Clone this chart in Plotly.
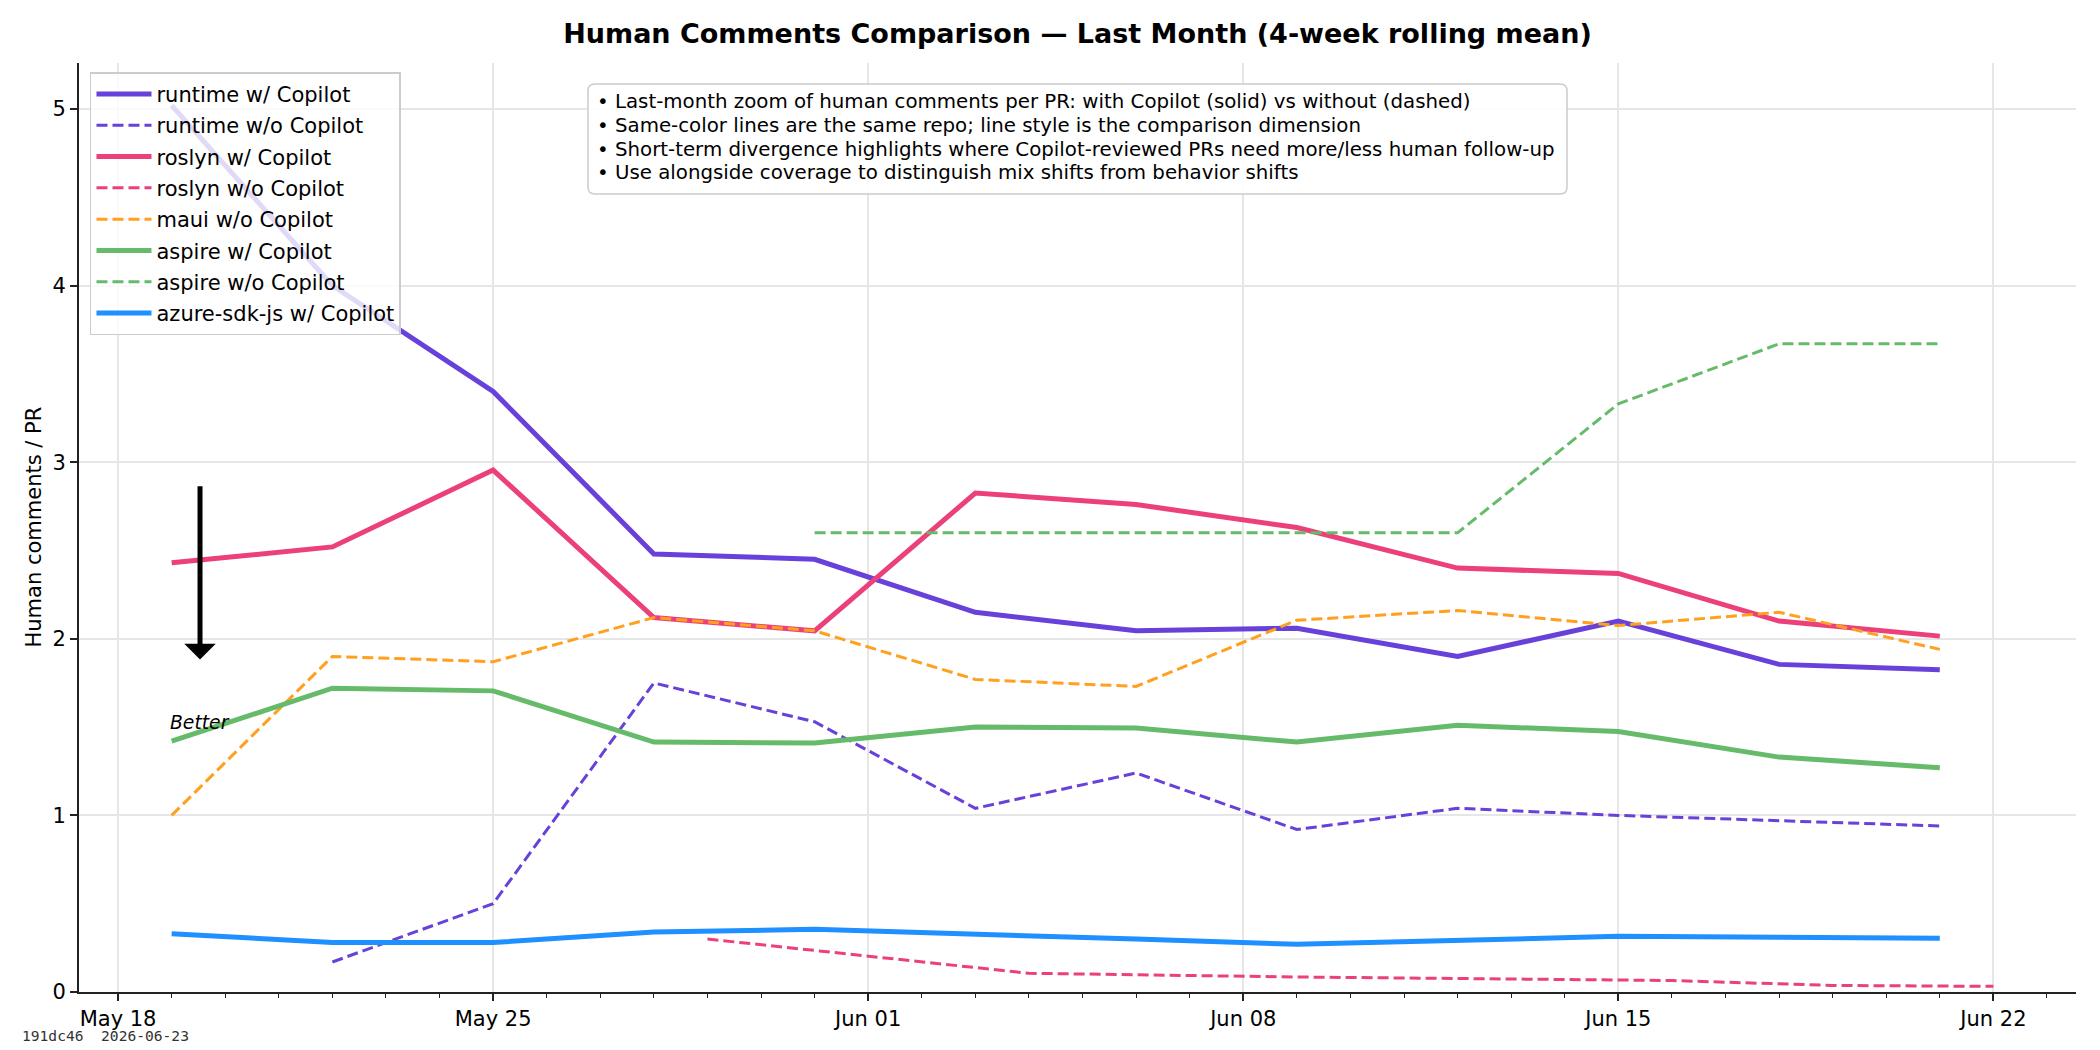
import plotly.graph_objects as go

# ---------------- data ----------------
dates_main = ["2026-05-19", "2026-05-22", "2026-05-25", "2026-05-28", "2026-05-31", "2026-06-03",
              "2026-06-06", "2026-06-09", "2026-06-12", "2026-06-15", "2026-06-18", "2026-06-21"]

runtime_w = [5.02, 4.00, 3.40, 2.48, 2.45, 2.15, 2.045, 2.06, 1.90, 2.10, 1.855, 1.825]

dates_runtime_wo = dates_main[1:]
runtime_wo = [0.17, 0.50, 1.75, 1.53, 1.04, 1.24, 0.92, 1.04, 1.00, 0.97, 0.94]

roslyn_w = [2.43, 2.52, 2.955, 2.12, 2.045, 2.825, 2.76, 2.63, 2.40, 2.37, 2.10, 2.015]

dates_roslyn_wo = ["2026-05-29", "2026-06-04", "2026-06-09", "2026-06-16", "2026-06-19", "2026-06-22"]
roslyn_wo = [0.30, 0.106, 0.085, 0.065, 0.037, 0.032]

maui_wo = [1.00, 1.90, 1.87, 2.12, 2.045, 1.77, 1.73, 2.105, 2.16, 2.075, 2.15, 1.94]

aspire_w = [1.42, 1.72, 1.705, 1.415, 1.41, 1.50, 1.495, 1.415, 1.51, 1.475, 1.33, 1.27]

dates_aspire_wo = dates_main[4:]
aspire_wo = [2.60, 2.60, 2.60, 2.60, 2.60, 3.33, 3.67, 3.67]

azure_w = [0.33, 0.28, 0.28, 0.34, 0.355, 0.33, 0.30, 0.27, 0.29, 0.315, 0.31, 0.305]

notes = [
    "Last-month zoom of human comments per PR: with Copilot (solid) vs without (dashed)",
    "Same-color lines are the same repo; line style is the comparison dimension",
    "Short-term divergence highlights where Copilot-reviewed PRs need more/less human follow-up",
    "Use alongside coverage to distinguish mix shifts from behavior shifts",
]

C_RUNTIME = "#6741d9"
C_ROSLYN = "#ec407a"
C_MAUI = "#ffa01e"
C_ASPIRE = "#66bb6a"
C_AZURE = "#1e90ff"

SOLID_W = 5.0
DASH_W = 3.0
DASH = "11px,5px"

series = [
    ("runtime w/ Copilot", dates_main, runtime_w, C_RUNTIME, "solid"),
    ("runtime w/o Copilot", dates_runtime_wo, runtime_wo, C_RUNTIME, "dash"),
    ("roslyn w/ Copilot", dates_main, roslyn_w, C_ROSLYN, "solid"),
    ("roslyn w/o Copilot", dates_roslyn_wo, roslyn_wo, C_ROSLYN, "dash"),
    ("maui w/o Copilot", dates_main, maui_wo, C_MAUI, "dash"),
    ("aspire w/ Copilot", dates_main, aspire_w, C_ASPIRE, "solid"),
    ("aspire w/o Copilot", dates_aspire_wo, aspire_wo, C_ASPIRE, "dash"),
    ("azure-sdk-js w/ Copilot", dates_main, azure_w, C_AZURE, "solid"),
]

FONT = "DejaVu Sans"

# plot area in pixels (used to place overlay text)
PL, PR_, PT, PB = 79, 2076, 63, 992.4
PW, PH = PR_ - PL, PB - PT


def fx(px):
    return (px - PL) / PW


def fy(py):
    return (PB - py) / PH


fig = go.Figure()
for i, (name, xs, ys, col, style) in enumerate(series):
    fig.add_trace(go.Scatter(
        x=xs, y=ys, mode="lines", name=name,
        legendgroup=f"g{i}",
        line=dict(color=col, width=SOLID_W if style == "solid" else DASH_W,
                  dash="solid" if style == "solid" else DASH),
        hoverinfo="skip",
    ))

fig.update_layout(
    width=2100, height=1050,
    margin=dict(l=79, r=24, t=63, b=58),
    paper_bgcolor="white", plot_bgcolor="white",
    font=dict(family=FONT, size=21, color="black"),
    title=dict(
        text="<b>Human Comments Comparison — Last Month (4-week rolling mean)</b>",
        x=0.5, xref="paper", xanchor="center",
        y=1 - 34 / 1050, yref="container", yanchor="middle",
        font=dict(family=FONT, size=27, color="black"),
    ),
    showlegend=True,
    legend=dict(
        x=0.0055, y=0.99, xanchor="left", yanchor="top",
        bgcolor="rgba(255,255,255,0.8)", bordercolor="#cccccc", borderwidth=1.5,
        font=dict(family=FONT, size=21, color="black"),
        traceorder="grouped", tracegroupgap=1.0, itemwidth=55,
    ),
    xaxis=dict(
        type="date",
        range=["2026-05-17 06:30", "2026-06-23 13:00"],
        tick0="2026-05-18", dtick=7 * 86400000,
        tickformat="%b %d",
        ticks="outside", ticklen=7, tickwidth=1.7, tickcolor="#222",
        showline=True, linecolor="#222", linewidth=1.8,
        showgrid=True, gridcolor="#e6e6e6", gridwidth=1.5,
        zeroline=False,
        tickfont=dict(family=FONT, size=21, color="black"),
        minor=dict(dtick=86400000, tick0="2026-05-18", ticks="outside", ticklen=4,
                   tickwidth=1.2, tickcolor="#222", showgrid=False),
    ),
    yaxis=dict(
        range=[0, 5.26],
        tick0=0, dtick=1,
        ticks="outside", ticklen=7, tickwidth=1.7, tickcolor="#222",
        showline=True, linecolor="#222", linewidth=1.8,
        showgrid=True, gridcolor="#e6e6e6", gridwidth=1.5,
        zeroline=False,
        tickfont=dict(family=FONT, size=21, color="black"),
    ),
)

# y-axis label
fig.add_annotation(
    text="Human comments / PR", textangle=-90,
    xref="paper", yref="paper", x=fx(33), y=0.5,
    xanchor="center", yanchor="middle", showarrow=False,
    font=dict(family=FONT, size=21, color="black"),
)

# notes box (rounded rectangle + one text line per note)
bx0, bx1, by0, by1 = fx(588), fx(1567), fy(194), fy(84)
rx, ry = 7 / PW, 7 / PH
box_path = (
    f"M{bx0 + rx},{by1} L{bx1 - rx},{by1} Q{bx1},{by1} {bx1},{by1 - ry} "
    f"L{bx1},{by0 + ry} Q{bx1},{by0} {bx1 - rx},{by0} "
    f"L{bx0 + rx},{by0} Q{bx0},{by0} {bx0},{by0 + ry} "
    f"L{bx0},{by1 - ry} Q{bx0},{by1} {bx0 + rx},{by1} Z"
)
fig.add_shape(type="path", path=box_path, xref="paper", yref="paper",
              fillcolor="rgba(255,255,255,0.9)", line=dict(color="#cccccc", width=1.5),
              layer="above")
line_centers = [102, 126, 149.5, 173]
for n, yc in zip(notes, line_centers):
    fig.add_annotation(
        text="• " + n, xref="paper", yref="paper", x=fx(595), y=fy(yc),
        xanchor="left", yanchor="middle", align="left", showarrow=False,
        font=dict(family=FONT, size=19.8, color="black"),
    )

# "Better" arrow
fig.add_annotation(
    xref="x domain", yref="y domain", x=0.0606, y=0.358,
    axref="x domain", ayref="y domain", ax=0.0606, ay=0.546,
    text="", showarrow=True, arrowhead=1, arrowsize=1.05, arrowwidth=5,
    arrowcolor="black", standoff=0,
)
fig.add_annotation(
    text="<i>Better</i>", xref="x domain", yref="y domain", x=0.0606, y=0.29,
    xanchor="center", yanchor="middle", showarrow=False,
    font=dict(family=FONT, size=18.75, color="black"),
)

# footer
fig.add_annotation(
    text="191dc46  2026-06-23",
    xref="paper", yref="paper", x=fx(20), y=fy(1036),
    xanchor="left", yanchor="middle", showarrow=False,
    font=dict(family="DejaVu Sans Mono", size=14.6, color="#333"),
)

fig.write_html("out.html")
